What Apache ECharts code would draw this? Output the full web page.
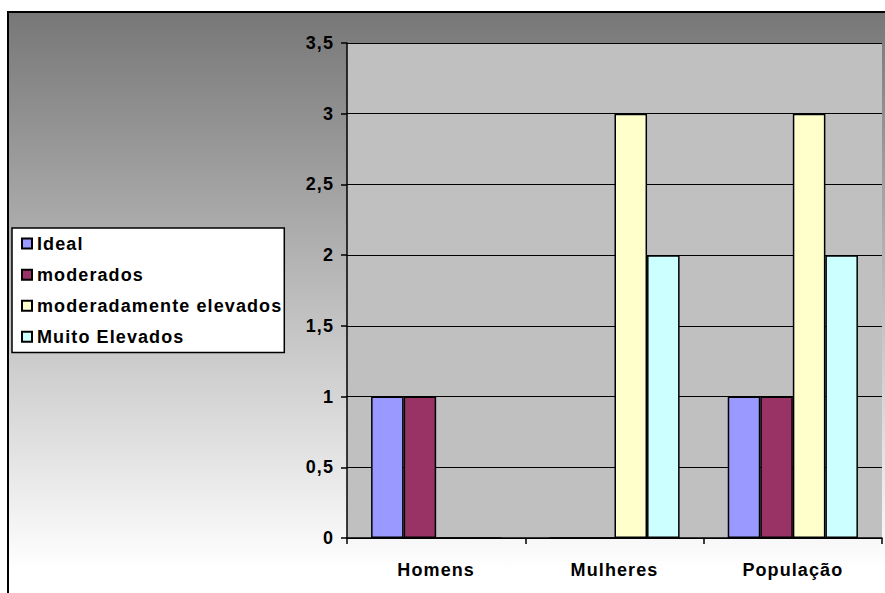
<!DOCTYPE html>
<html>
<head>
<meta charset="utf-8">
<script src="https://cdn.jsdelivr.net/npm/echarts@6/dist/echarts.min.js"></script>
<style>
  html, body { margin: 0; padding: 0; background: #ffffff; }
  #chart { width: 885px; height: 593px; }
  /* the chart's lettering is slightly tracked out */
  #chart svg text { letter-spacing: 1.1px; }
</style>
</head>
<body>
<div id="chart"></div>
<script>
// Categories and series values
var categories = ['Homens', 'Mulheres', 'População'];
var seriesNames = ['Ideal', 'moderados', 'moderadamente elevados', 'Muito Elevados'];
var ideal = [1, 0, 1];
var moderados = [1, 0, 1];
var moderadamenteElevados = [0, 3, 3];
var muitoElevados = [0, 2, 2];
var yTicks = [0, 0.5, 1, 1.5, 2, 2.5, 3, 3.5];

var seriesColors = ['#9999ff', '#993366', '#ffffcc', '#ccffff'];
var seriesData = [ideal, moderados, moderadamenteElevados, muitoElevados];

var FONT = '"Liberation Sans", Arial, sans-serif';
var TRACKING = 1.1;

// text measurement that accounts for the letter spacing set in the stylesheet
var measureCtx = document.createElement('canvas').getContext('2d');
echarts.setPlatformAPI({
  measureText: function (text, font) {
    measureCtx.font = font || '12px sans-serif';
    var w = measureCtx.measureText(text || '').width;
    return { width: w + TRACKING * String(text || '').length };
  }
});

var chart = echarts.init(document.getElementById('chart'), null, { renderer: 'svg' });

var option = {
  animation: false,
  backgroundColor: '#ffffff',
  graphic: [{
    type: 'rect',
    z: -10,
    silent: true,
    shape: { x: 8, y: 12, width: 900, height: 600 },
    style: {
      fill: {
        type: 'linear', x: 0, y: 0, x2: 0, y2: 1,
        colorStops: [
          { offset: 0, color: '#777777' },
          { offset: 0.93, color: '#ffffff' },
          { offset: 1, color: '#ffffff' }
        ]
      },
      stroke: '#000000',
      lineWidth: 2
    }
  }],
  grid: {
    left: 347, top: 43, right: 3, bottom: 55,
    show: true, backgroundColor: '#c0c0c0', borderWidth: 0
  },
  legend: {
    orient: 'vertical',
    left: 12, top: 228,
    data: seriesNames,
    icon: 'rect',
    itemWidth: 10, itemHeight: 10,
    itemGap: 12,
    itemTextGap: 6,
    padding: [6, 2, 6, 9],
    backgroundColor: '#ffffff',
    borderColor: '#000000',
    borderWidth: 1.5,
    borderRadius: 0,
    selectedMode: false,
    textStyle: { fontFamily: FONT, fontWeight: 'bold', fontSize: 18, color: '#000000' }
  },
  xAxis: {
    type: 'category',
    data: categories,
    axisLine: { lineStyle: { color: '#000000', width: 1.5 } },
    axisTick: { show: true, alignWithLabel: false, length: 6, lineStyle: { color: '#000000', width: 1.5 } },
    axisLabel: { fontFamily: FONT, fontWeight: 'bold', fontSize: 18, color: '#000000', margin: 22 },
    splitLine: { show: false }
  },
  yAxis: {
    type: 'value',
    min: yTicks[0],
    max: yTicks[yTicks.length - 1],
    interval: 0.5,
    axisLine: { show: true, lineStyle: { color: '#000000', width: 1.5 } },
    axisTick: { show: true, length: 6, lineStyle: { color: '#000000', width: 1.5 } },
    axisLabel: {
      fontFamily: FONT, fontWeight: 'bold', fontSize: 18, color: '#000000', margin: 13,
      formatter: function (v) { return String(v).replace('.', ','); }
    },
    splitLine: { show: true, lineStyle: { color: '#000000', width: 1 } }
  },
  series: seriesNames.map(function (name, i) {
    return {
      name: name,
      type: 'bar',
      data: seriesData[i],
      barGap: '0%',
      barCategoryGap: '27%',
      itemStyle: { color: seriesColors[i], borderColor: '#000000', borderWidth: 1.5 }
    };
  })
};

chart.setOption(option);
</script>
</body>
</html>
